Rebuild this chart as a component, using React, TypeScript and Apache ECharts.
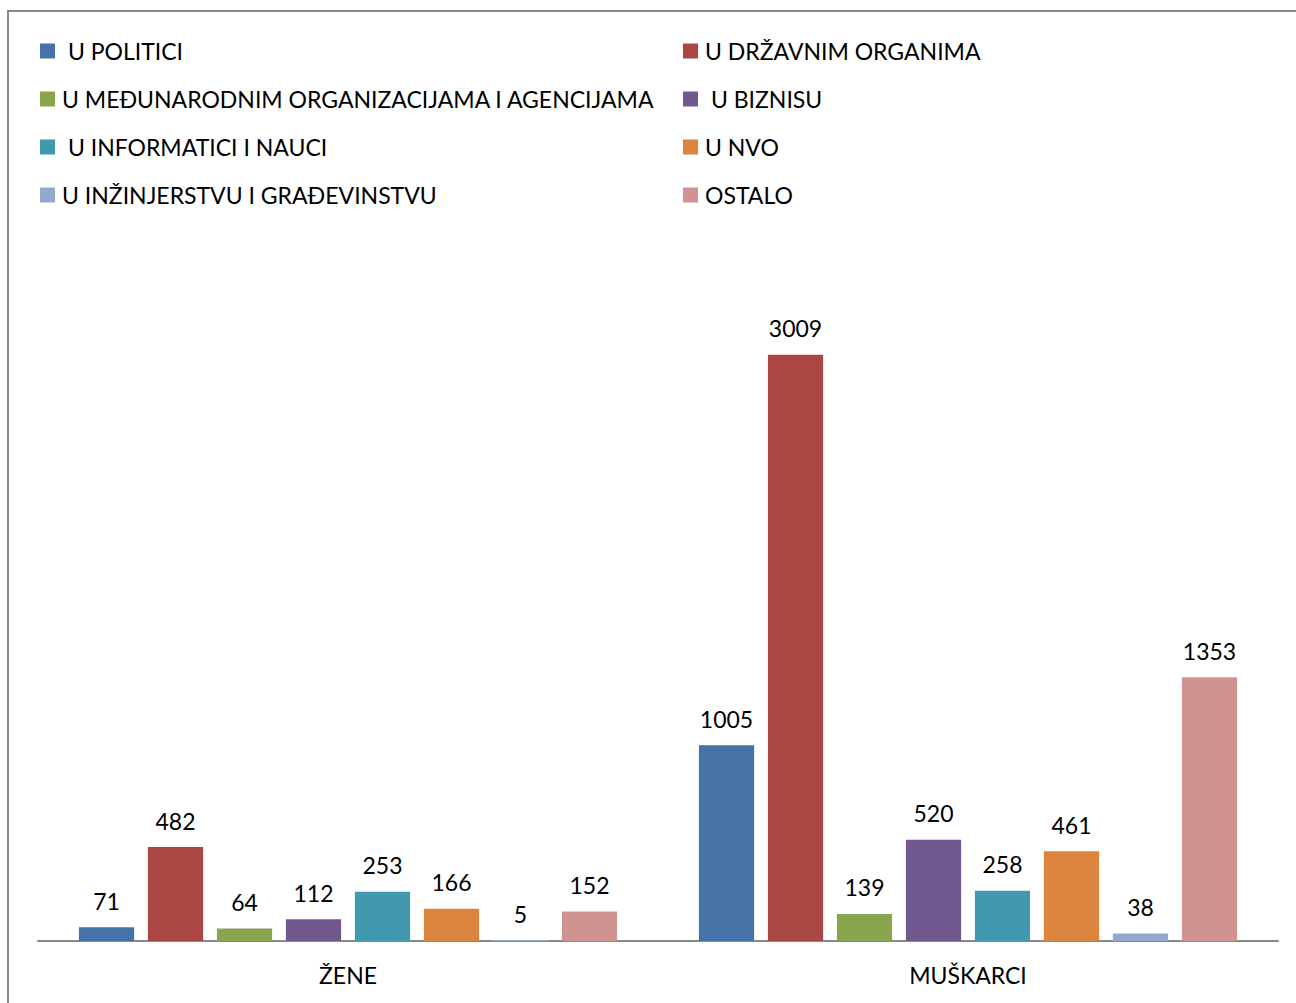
import React, { useEffect, useRef } from "react";
import * as echarts from "echarts";

const categories = ["ŽENE", "MUŠKARCI"];

const seriesNames = [
  " U POLITICI",
  "U DRŽAVNIM ORGANIMA",
  "U MEĐUNARODNIM ORGANIZACIJAMA I AGENCIJAMA",
  " U BIZNISU",
  " U INFORMATICI I NAUCI",
  "U NVO",
  "U INŽINJERSTVU I GRAĐEVINSTVU",
  "OSTALO",
];

const uPolitici = [71, 1005];
const uDrzavnimOrganima = [482, 3009];
const uMedjunarodnim = [64, 139];
const uBiznisu = [112, 520];
const uInformatici = [253, 258];
const uNvo = [166, 461];
const uInzinjerstvu = [5, 38];
const ostalo = [152, 1353];

const seriesValues = [
  uPolitici,
  uDrzavnimOrganima,
  uMedjunarodnim,
  uBiznisu,
  uInformatici,
  uNvo,
  uInzinjerstvu,
  ostalo,
];

const colors = [
  "#4572A7",
  "#AA4643",
  "#89A54E",
  "#71588F",
  "#4198AF",
  "#DB843D",
  "#93A9CF",
  "#D19392",
];

const legendLeftCol = [seriesNames[0], seriesNames[2], seriesNames[4], seriesNames[6]];
const legendRightCol = [seriesNames[1], seriesNames[3], seriesNames[5], seriesNames[7]];

const FONT = "Lato, 'Open Sans', sans-serif";

export default function App() {
  const ref = useRef<HTMLDivElement>(null);

  useEffect(() => {
    if (!ref.current) return;
    const chart = echarts.init(ref.current, undefined, { renderer: "svg" });
    const legendCommon = {
      orient: "vertical" as const,
      top: 39,
      padding: 0,
      itemWidth: 15,
      itemHeight: 15,
      itemGap: 24,
      icon: "rect",
      selectedMode: false,
      textStyle: {
        fontFamily: FONT,
        fontSize: 23,
        color: "#000",
        lineHeight: 24,
        padding: [0, 0, 0, 2],
      },
    };
    chart.setOption({
      animation: false,
      color: colors,
      textStyle: { fontFamily: FONT },
      graphic: [
        {
          type: "rect",
          shape: { x: 8, y: 11, width: 1300, height: 1000 },
          style: { fill: "none", stroke: "#898989", lineWidth: 2 },
          silent: true,
        },
      ],
      legend: [
        { ...legendCommon, left: 40, data: legendLeftCol },
        { ...legendCommon, left: 683, data: legendRightCol },
      ],
      grid: { left: 38, right: 18, top: 259, bottom: 62, containLabel: false },
      xAxis: {
        type: "category",
        data: categories,
        axisLine: { show: true, lineStyle: { color: "#898989", width: 2 } },
        axisTick: { show: false },
        axisLabel: { color: "#000", fontSize: 23, fontFamily: FONT, margin: 22 },
      },
      yAxis: {
        type: "value",
        min: 0,
        max: 3500,
        interval: 500,
        show: false,
        splitLine: { show: false },
      },
      series: seriesNames.map((name, i) => ({
        name,
        type: "bar",
        data: seriesValues[i],
        barGap: "25%",
        barCategoryGap: "13.2%",
        label: {
          show: true,
          position: "top",
          distance: 15,
          color: "#000",
          fontSize: 23,
          fontFamily: FONT,
        },
      })),
    });
    return () => chart.dispose();
  }, []);

  return (
    <div
      ref={ref}
      style={{ position: "absolute", left: 0, top: 0, width: 1296, height: 1003 }}
    />
  );
}
